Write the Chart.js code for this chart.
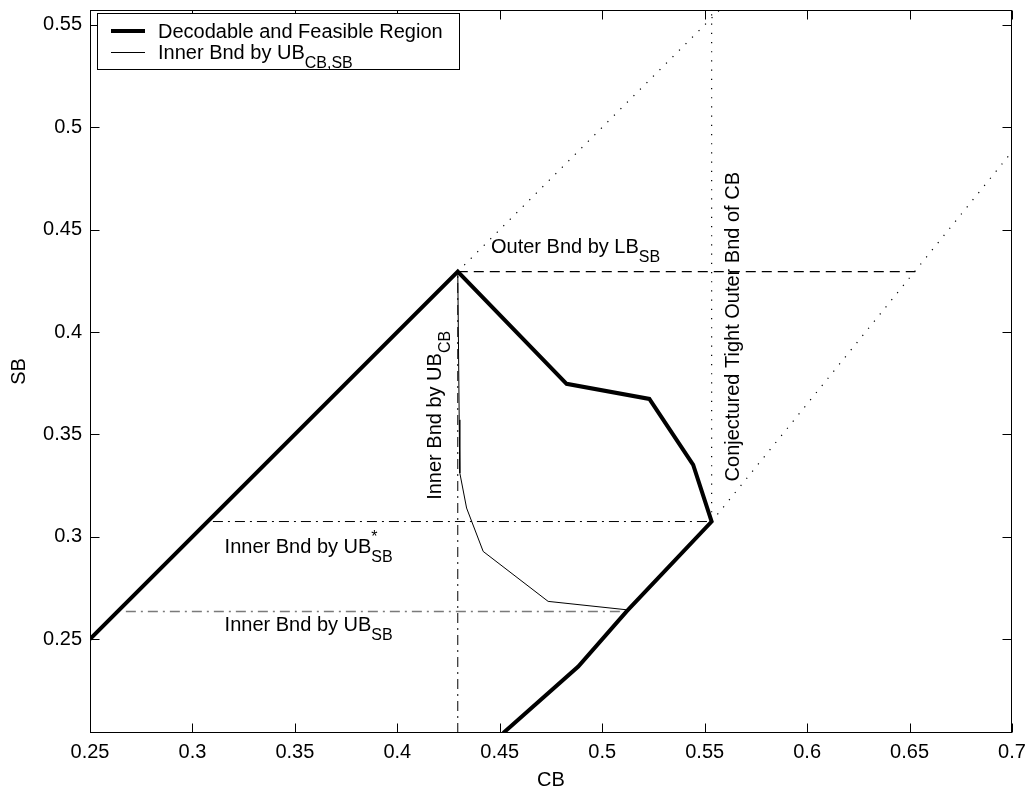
<!DOCTYPE html>
<html lang="en">
<head>
<meta charset="UTF-8">
<title>CB x SB</title>
<script src="https://cdn.jsdelivr.net/npm/chart.js"></script>
<style>
  body { margin: 0; background: #fff; }
  #grafico { display: block; }
</style>
</head>
<body>
<canvas id="grafico" width="1029" height="792"></canvas>
<script>

    // ticks e limites dos eixos
    const xTicks = [0.25, 0.3, 0.35, 0.4, 0.45, 0.5, 0.55, 0.6, 0.65, 0.7];
    const yTicks = [0.25, 0.3, 0.35, 0.4, 0.45, 0.5, 0.55];
    const xMin = 0.25, xMax = 0.7;
    const yMin = 0.2041, yMax = 0.5573;

    // regiao decodificavel e viavel (linha grossa)
    const regiaoCB = [0.25, 0.4295, 0.4826, 0.5230, 0.5444, 0.5534, 0.5119, 0.4883, 0.4517];
    const regiaoSB = [0.25, 0.4295, 0.3747, 0.3673, 0.3351, 0.3074, 0.2635, 0.2366, 0.2041];

    // inner bnd por UB_CB,SB (linha fina)
    const internoCB = [0.4295, 0.4302, 0.4305, 0.4338, 0.4419, 0.4736, 0.5119];
    const internoSB = [0.4295, 0.3571, 0.3311, 0.3140, 0.2928, 0.2684, 0.2643];

    // outer bnd por LB_SB (tracejada)
    const outerCB = [0.4295, 0.6528];
    const outerSB = [0.4295, 0.4295];

    // pontilhadas
    const diag1CB = [0.4295, 0.5573];
    const diag1SB = [0.4295, 0.5573];
    const vertCB = [0.5534, 0.5534];
    const vertSB = [0.3074, 0.5573];
    const diag2CB = [0.5534, 0.7];
    const diag2SB = [0.3074, 0.4881];

    // traco-ponto
    const ubCbCB = [0.4295, 0.4295];
    const ubCbSB = [0.2041, 0.4295];
    const ubEstrelaCB = [0.31, 0.5534];
    const ubEstrelaSB = [0.3074, 0.3074];
    const ubSbCB = [0.2675, 0.5119];
    const ubSbSB = [0.2635, 0.2635];

    const fonte = '"Liberation Sans", Arial, Helvetica, sans-serif';

    function pts(xs, ys) {
        return xs.map((x, i) => ({ x: x, y: ys[i] }));
    }

    function linha(xs, ys, largura, cor, traco) {
        return {
            data: pts(xs, ys),
            showLine: true,
            borderColor: cor,
            borderWidth: largura,
            borderDash: traco,
            pointRadius: 0,
            pointHoverRadius: 0,
            fill: false,
            tension: 0
        };
    }

    // texto com sub/sobrescrito
    function escreveRico(ctx, partes, x, y, rot) {
        ctx.save();
        ctx.translate(x, y);
        ctx.rotate(rot || 0);
        ctx.fillStyle = '#000';
        ctx.textBaseline = 'alphabetic';
        ctx.textAlign = 'left';
        let cx = 0;
        partes.forEach(p => {
            if (p.sub || p.sup) {
                ctx.font = '16px ' + fonte;
                let w = 0;
                if (p.sub) {
                    ctx.fillText(p.sub, cx, 9);
                    w = Math.max(w, ctx.measureText(p.sub).width);
                }
                if (p.sup) {
                    ctx.fillText(p.sup, cx, -11);
                    w = Math.max(w, ctx.measureText(p.sup).width);
                }
                cx += w;
            } else {
                ctx.font = '20px ' + fonte;
                ctx.fillText(p.t, cx, 0);
                cx += ctx.measureText(p.t).width;
            }
        });
        ctx.restore();
    }

    const rotulos = [
        { x: 0.4457, y: 0.4386, rot: 0, partes: [{ t: 'Outer Bnd by LB' }, { sub: 'SB' }] },
        { x: 0.3157, y: 0.2921, rot: 0, partes: [{ t: 'Inner Bnd by UB' }, { sub: 'SB', sup: '*' }] },
        { x: 0.3157, y: 0.2537, rot: 0, partes: [{ t: 'Inner Bnd by UB' }, { sub: 'SB' }] },
        { x: 0.4212, y: 0.3180, rot: -Math.PI / 2, partes: [{ t: 'Inner Bnd by UB' }, { sub: 'CB' }] },
        { x: 0.5667, y: 0.3270, rot: -Math.PI / 2, partes: [{ t: 'Conjectured Tight Outer Bnd of CB' }] }
    ];

    const pluginMoldura = {
        id: 'moldura',
        afterDatasetsDraw(chart) {
            const ctx = chart.ctx;
            const a = chart.chartArea;
            const sx = chart.scales.x, sy = chart.scales.y;
            const L = Math.round(a.left) + 0.5, R = Math.round(a.right) - 0.5;
            const T = Math.round(a.top) + 0.5, B = Math.round(a.bottom) - 0.5;

            ctx.save();
            ctx.strokeStyle = '#000';
            ctx.lineWidth = 1;
            ctx.setLineDash([]);
            ctx.strokeRect(L, T, R - L, B - T);

            // ticks pra dentro nos 4 lados
            ctx.beginPath();
            xTicks.forEach(v => {
                const px = Math.round(sx.getPixelForValue(v)) + 0.5;
                ctx.moveTo(px, B); ctx.lineTo(px, B - 9);
                ctx.moveTo(px, T); ctx.lineTo(px, T + 9);
            });
            yTicks.forEach(v => {
                const py = Math.round(sy.getPixelForValue(v)) + 0.5;
                ctx.moveTo(L, py); ctx.lineTo(L + 9, py);
                ctx.moveTo(R, py); ctx.lineTo(R - 9, py);
            });
            ctx.stroke();
            ctx.restore();

            rotulos.forEach(r => {
                escreveRico(ctx, r.partes, sx.getPixelForValue(r.x), sy.getPixelForValue(r.y), r.rot);
            });

            // legenda
            ctx.save();
            ctx.fillStyle = '#fff';
            ctx.fillRect(97, 13, 362, 56);
            ctx.strokeStyle = '#000';
            ctx.lineWidth = 1;
            ctx.strokeRect(97.5, 13.5, 362, 56);
            ctx.beginPath();
            ctx.lineWidth = 4;
            ctx.moveTo(111, 31); ctx.lineTo(145, 31);
            ctx.stroke();
            ctx.beginPath();
            ctx.lineWidth = 1;
            ctx.moveTo(111, 52.5); ctx.lineTo(145, 52.5);
            ctx.stroke();
            ctx.restore();
            escreveRico(ctx, [{ t: 'Decodable and Feasible Region' }], 158, 38, 0);
            escreveRico(ctx, [{ t: 'Inner Bnd by UB' }, { sub: 'CB,SB' }], 158, 59, 0);
        }
    };

    // tira o espaco extra que o chart.js reserva pros labels das pontas
    function semPadding(scale) {
        scale.paddingLeft = 0;
        scale.paddingRight = 0;
        scale.paddingTop = 0;
        scale.paddingBottom = 0;
    }

    const ctx = document.getElementById('grafico').getContext('2d');

    new Chart(ctx, {
        type: 'scatter',
        data: {
            datasets: [
                linha(regiaoCB, regiaoSB, 4, '#000', []),
                linha(internoCB, internoSB, 1, '#000', []),
                linha(outerCB, outerSB, 1.2, '#000', [10, 6]),
                linha(diag1CB, diag1SB, 1.2, '#000', [1.2, 8]),
                linha(vertCB, vertSB, 1.2, '#000', [1.2, 8]),
                linha(diag2CB, diag2SB, 1.2, '#000', [1.2, 8]),
                linha(ubCbCB, ubCbSB, 1, '#000', [10, 5, 2, 5]),
                linha(ubEstrelaCB, ubEstrelaSB, 1, '#000', [10, 5, 2, 5]),
                linha(ubSbCB, ubSbSB, 1.5, '#7a7a7a', [10, 5, 2, 5])
            ]
        },
        options: {
            responsive: false,
            animation: false,
            devicePixelRatio: 1,
            layout: { padding: { top: 10, right: 17, left: 0, bottom: 0 } },
            plugins: {
                legend: { display: false },
                tooltip: { enabled: false }
            },
            scales: {
                x: {
                    type: 'linear',
                    min: xMin,
                    max: xMax,
                    grid: { display: false, drawTicks: false },
                    border: { display: false },
                    afterFit(scale) { scale.height = 59; semPadding(scale); },
                    afterBuildTicks(scale) { scale.ticks = xTicks.map(v => ({ value: v })); },
                    ticks: {
                        padding: 7,
                        color: '#000',
                        font: { family: fonte, size: 20 },
                        maxRotation: 0,
                        callback: v => String(+v.toFixed(2))
                    },
                    title: {
                        display: true,
                        text: 'CB',
                        color: '#000',
                        font: { family: fonte, size: 20 },
                        padding: { top: 0, bottom: 0 }
                    }
                },
                y: {
                    type: 'linear',
                    min: yMin,
                    max: yMax,
                    grid: { display: false, drawTicks: false },
                    border: { display: false },
                    afterFit(scale) { scale.width = 90; semPadding(scale); },
                    afterBuildTicks(scale) { scale.ticks = yTicks.map(v => ({ value: v })); },
                    ticks: {
                        padding: 8,
                        color: '#000',
                        font: { family: fonte, size: 20 },
                        callback: v => String(+v.toFixed(2))
                    },
                    title: {
                        display: true,
                        text: 'SB',
                        color: '#000',
                        font: { family: fonte, size: 20 },
                        padding: { top: 7, bottom: 0 }
                    }
                }
            }
        },
        plugins: [pluginMoldura]
    });

</script>
</body>
</html>
